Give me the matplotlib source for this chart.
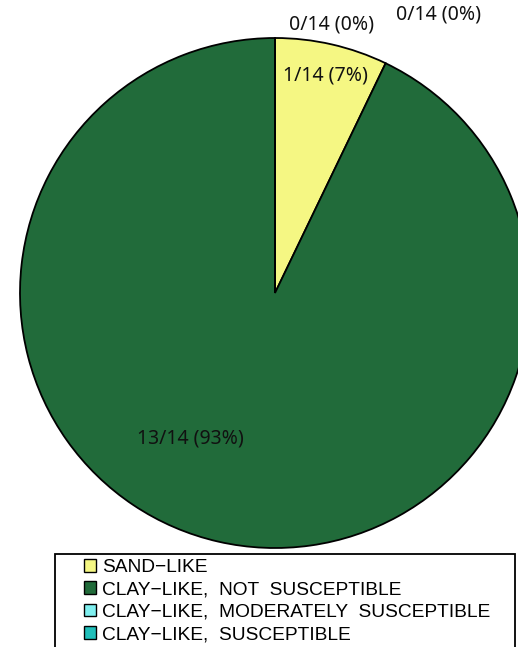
import numpy as np
import matplotlib.pyplot as plt
from matplotlib.patches import Rectangle

# Data
categories = ['SAND−LIKE', 'CLAY−LIKE,  NOT  SUSCEPTIBLE',
              'CLAY−LIKE,  MODERATELY  SUSCEPTIBLE', 'CLAY−LIKE,  SUSCEPTIBLE']
counts = [1, 13, 0, 0]
colors = ['#F5F783', '#216B3A', '#7FEFEF', '#20BFBA']

# where each count label sits (in pie radius units)
label_pos = [(0.196, 0.851), (-0.333, -0.569), (0.22, 1.051), (0.643, 1.094)]


def main():
    total = sum(counts)
    fig = plt.figure(figsize=(5.18, 6.47), dpi=100)
    ax = fig.add_axes([20/518, 99/647, 510/518, 510/647])

    wedges, _ = ax.pie(counts, colors=colors, startangle=90, counterclock=False,
                       radius=1, wedgeprops=dict(edgecolor='black', linewidth=1.3))
    for w in wedges:
        w.set_clip_on(False)
    ax.set_xlim(-1, 1)
    ax.set_ylim(-1, 1)
    ax.set_aspect('equal')
    ax.axis('off')

    for c, (x, y) in zip(counts, label_pos):
        pct = int(round(100 * c / total))
        ax.text(x, y, '%d/%d (%d%%)' % (c, total, pct), ha='center', va='center',
                fontsize=14, family=['Noto Sans', 'DejaVu Sans'], color='#111111')

    # legend box
    fig.patches.append(Rectangle((55/518, -0.05), 460/518, 0.05 + 1 - 554/647,
                                 transform=fig.transFigure, facecolor='white',
                                 edgecolor='black', linewidth=1.3))
    fig.legend(wedges, categories, loc='upper left', bbox_to_anchor=(84/518, 1 - 559/647),
               frameon=False, borderpad=0, borderaxespad=0, labelspacing=0.28,
               handlelength=0.63, handleheight=0.63, handletextpad=0.31,
               prop=dict(family='Liberation Sans', size=13.8))
    for h in fig.legends[0].legend_handles:
        h.set_edgecolor('black')
        h.set_linewidth(1.0)

    fig.savefig('out.png', dpi=100)


if __name__ == '__main__':
    main()
